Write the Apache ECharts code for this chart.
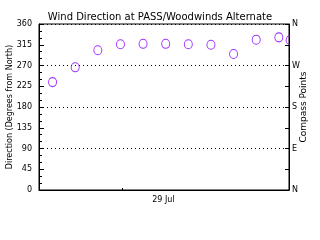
<!DOCTYPE html>
<html>
<head>
<meta charset="utf-8">
<script src="https://cdn.jsdelivr.net/npm/echarts@6/dist/echarts.min.js"></script>
<style>
html, body { margin: 0; padding: 0; background: #fff; }
#main { width: 320px; height: 240px; }
</style>
</head>
<body>
<div id="main"></div>
<script>
// hours relative to 00:00 29 Jul
var hours = [-3.1, -2.1, -1.1, -0.1, 0.9, 1.9, 2.9, 3.9, 4.9, 5.9, 6.9, 7.4];
var direction = [234, 266, 303, 316, 317, 317, 316, 315, 295, 326, 331, 325];
var dayLabel = '29 Jul';
var compass = {0: 'N', 90: 'E', 180: 'S', 270: 'W', 360: 'N'};

var myChart = echarts.init(document.getElementById('main'));

var pts = [];
for (var i = 0; i < hours.length; i++) pts.push([hours[i], direction[i]]);

var font = 'DejaVu Sans';

var option = {
  animation: false,
  backgroundColor: '#fff',
  title: {
    text: 'Wind Direction at PASS/Woodwinds Alternate',
    left: 'center', top: 7,
    textStyle: { fontFamily: font, fontSize: 10, fontWeight: 'normal', color: '#000' }
  },
  grid: { left: 39, right: 31, top: 24, bottom: 50, show: true, borderColor: '#000', borderWidth: 1,
    outerBoundsMode: 'none', containLabel: false },
  xAxis: {
    type: 'value', min: -3.7, max: 7.35,
    axisLine: { onZero: false, lineStyle: { color: '#000' } },
    axisTick: { show: true, inside: true, length: 2, customValues: [0], lineStyle: { color: '#000' } },
    axisLabel: { customValues: [1.8], formatter: function () { return dayLabel; },
      fontFamily: font, fontSize: 8, color: '#000', margin: 6 },
    splitLine: { show: false }
  },
  yAxis: [
    {
      type: 'value', min: 0, max: 360, interval: 45, position: 'left',
      name: 'Direction (Degrees from North)', nameLocation: 'middle', nameGap: 25,
      nameMoveOverlap: false,
      nameTextStyle: { fontFamily: font, fontSize: 8, color: '#000' },
      axisLine: { show: true, onZero: false, lineStyle: { color: '#000' } },
      axisTick: { inside: true, length: 5, lineStyle: { color: '#000' } },
      minorTick: { show: true, splitNumber: 3, length: 3, lineStyle: { color: '#000' } },
      axisLabel: { fontFamily: font, fontSize: 8, color: '#000', margin: 7 },
      splitLine: { show: false }
    },
    {
      type: 'value', min: 0, max: 360, interval: 45, position: 'right',
      name: 'Compass Points', nameLocation: 'middle', nameGap: 10, nameRotate: 90,
      nameMoveOverlap: false,
      nameTextStyle: { fontFamily: font, fontSize: 9, color: '#000' },
      axisLine: { show: true, onZero: false, lineStyle: { color: '#000' } },
      axisTick: { inside: true, length: 4, lineStyle: { color: '#000' } },
      axisLabel: { fontFamily: font, fontSize: 8, color: '#000', margin: 3,
        formatter: function (v) { return compass[v] || ''; } },
      splitLine: { show: false }
    },
    {
      type: 'value', min: 0, max: 360, interval: 90, show: true, position: 'left',
      axisLine: { show: false, onZero: false }, axisTick: { show: false }, axisLabel: { show: false },
      splitLine: { show: true, lineStyle: { color: '#000', type: [1, 3], width: 1 } }
    }
  ],
  series: [{
    type: 'scatter',
    data: pts,
    clip: false,
    symbol: 'circle',
    symbolSize: [8, 9],
    itemStyle: { color: 'rgba(0,0,0,0)', borderColor: '#8800ff', borderWidth: 1 },
    z: 3
  }],
  graphic: [{
    type: 'rect', z: 100,
    shape: { x: 290, y: 34, width: 6, height: 13 },
    style: { fill: '#fff' }
  }]
};

myChart.setOption(option);
</script>
</body>
</html>
